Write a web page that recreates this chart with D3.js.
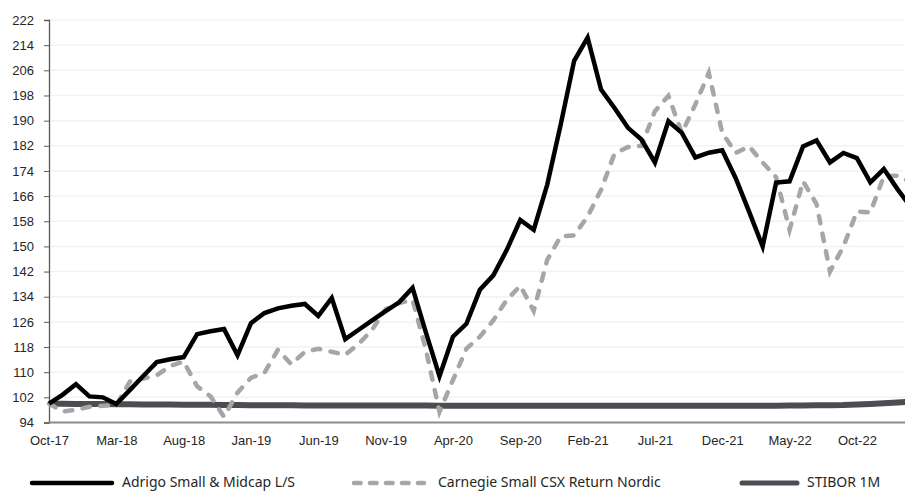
<!DOCTYPE html>
<html>
<head>
<meta charset="utf-8">
<script src="https://cdn.jsdelivr.net/npm/d3@7"></script>
<style>
  body { margin: 0; background: #fff; }
  svg { font-family: "Noto Sans", "Open Sans", sans-serif; }
</style>
</head>
<body>
<svg width="905" height="491"></svg>
<script>
'use strict';
var months = [
  'Oct-17', 'Nov-17', 'Dec-17',
  'Jan-18', 'Feb-18', 'Mar-18', 'Apr-18', 'May-18', 'Jun-18', 'Jul-18', 'Aug-18', 'Sep-18', 'Oct-18', 'Nov-18', 'Dec-18',
  'Jan-19', 'Feb-19', 'Mar-19', 'Apr-19', 'May-19', 'Jun-19', 'Jul-19', 'Aug-19', 'Sep-19', 'Oct-19', 'Nov-19', 'Dec-19',
  'Jan-20', 'Feb-20', 'Mar-20', 'Apr-20', 'May-20', 'Jun-20', 'Jul-20', 'Aug-20', 'Sep-20', 'Oct-20', 'Nov-20', 'Dec-20',
  'Jan-21', 'Feb-21', 'Mar-21', 'Apr-21', 'May-21', 'Jun-21', 'Jul-21', 'Aug-21', 'Sep-21', 'Oct-21', 'Nov-21', 'Dec-21',
  'Jan-22', 'Feb-22', 'Mar-22', 'Apr-22', 'May-22', 'Jun-22', 'Jul-22', 'Aug-22', 'Sep-22', 'Oct-22', 'Nov-22', 'Dec-22',
  'Jan-23', 'Feb-23'
];
var tickLabels = ['Oct-17', 'Mar-18', 'Aug-18', 'Jan-19', 'Jun-19', 'Nov-19', 'Apr-20',
  'Sep-20', 'Feb-21', 'Jul-21', 'Dec-21', 'May-22', 'Oct-22'];
var yTicks = [94, 102, 110, 118, 126, 134, 142, 150, 158, 166, 174, 182, 190, 198, 206, 214, 222];

var adrigo = [
  100, 102.8, 106.2,
  102.3, 102.0, 99.9, 104.3, 108.8, 113.2, 114.1, 114.8, 122.1, 123.0, 123.7, 115.4,
  125.6, 128.8, 130.3, 131.1, 131.7, 127.9, 133.6, 120.5, 123.5, 126.5, 129.4, 132.2,
  136.8, 122.5, 108.7, 121.3, 125.4, 136.2, 140.8, 148.9, 158.4, 155.3, 169.6, 188.7,
  209.0, 216.4, 199.9, 194.0, 187.7, 184.0, 176.7, 189.8, 186.1, 178.3, 179.8, 180.6,
  171.7, 161.0, 150.0, 170.3, 170.7, 181.8, 183.7, 176.7, 179.7, 178.1, 170.4, 174.6,
  168.3, 162.5
];
var carnegie = [
  100, 97.5, 98.0,
  99.0, 99.3, 99.5, 107.0, 108.0, 109.0, 112.0, 113.4, 105.5, 102.3, 95.8, 103.5,
  108.2, 109.8, 117.1, 112.5, 116.5, 117.4, 116.5, 115.5, 119.0, 123.5, 130.0, 132.0,
  133.0, 117.0, 97.4, 107.5, 117.5, 121.3, 126.5, 133.0, 137.5, 129.5, 145.7, 153.2,
  153.5, 159.5, 168.0, 179.5, 181.6, 182.0, 193.0, 197.9, 186.1, 195.1, 205.2, 186.1,
  179.7, 181.8, 176.7, 172.0, 155.3, 170.7, 163.5, 142.0, 150.0, 161.1, 160.8, 172.3,
  172.5, 170.5
];
var stibor = [
  100.0, 99.96, 99.92,
  99.88, 99.85, 99.82, 99.79, 99.76, 99.73, 99.70, 99.67, 99.64, 99.61, 99.58, 99.55,
  99.52, 99.50, 99.48, 99.46, 99.44, 99.42, 99.41, 99.40, 99.39, 99.38, 99.38, 99.37,
  99.37, 99.37, 99.36, 99.36, 99.36, 99.36, 99.35, 99.35, 99.35, 99.35, 99.35, 99.35,
  99.35, 99.35, 99.35, 99.35, 99.35, 99.35, 99.35, 99.35, 99.35, 99.35, 99.35, 99.35,
  99.35, 99.35, 99.35, 99.36, 99.38, 99.41, 99.45, 99.50, 99.57, 99.75, 99.90, 100.10,
  100.35, 100.60
];
var seriesNames = ['Adrigo Small & Midcap L/S', 'Carnegie Small CSX Return Nordic', 'STIBOR 1M'];

(() => {
  var svg = d3.select('svg');
  var left = 49;
  var top = 20;
  var bottom = 422.5;
  var right = 905;
  var step = 13.465;

  var x = d3.scalePoint()
    .domain(months)
    .range([left, left + step * (months.length - 1)]);
  var y = d3.scaleLinear()
    .domain([94, 222])
    .range([bottom, top]);

  svg.append('defs').append('clipPath')
    .attr('id', 'plot')
    .append('rect')
      .attr('x', 0)
      .attr('y', 0)
      .attr('width', right)
      .attr('height', bottom + 10);

  // grid
  svg.append('g')
    .selectAll('line').data(yTicks.slice(1))
    .enter().append('line')
      .attr('x1', left)
      .attr('x2', right)
      .attr('y1', d => y(d))
      .attr('y2', d => y(d))
      .attr('stroke', '#f2f2f2')
      .attr('stroke-width', 1.5);

  // y axis
  var yaxis = svg.append('g')
    .attr('transform', `translate(${left}, 0)`)
    .call(d3.axisLeft(y).tickValues(yTicks).tickSize(5).tickPadding(10));
  yaxis.select('.domain').attr('stroke', '#595959').attr('stroke-width', 1.3);
  yaxis.selectAll('.tick line').attr('stroke', '#595959');
  yaxis.selectAll('.tick text')
    .attr('fill', '#262626')
    .style('font-size', '13px');

  // x axis
  var xaxis = svg.append('g')
    .attr('transform', `translate(0, ${bottom})`)
    .call(d3.axisBottom(x).tickValues(tickLabels).tickSize(0).tickPadding(13));
  xaxis.select('.domain')
    .attr('d', `M${left},0H${right}`)
    .attr('stroke', '#8c8c8c')
    .attr('stroke-width', 2);
  xaxis.selectAll('.tick text')
    .attr('fill', '#262626')
    .style('font-size', '13px');

  var line = d3.line()
    .x((d, i) => x(months[i]))
    .y(d => y(d));

  var plot = svg.append('g').attr('clip-path', 'url(#plot)');
  plot.append('path')
    .datum(stibor)
    .attr('fill', 'none')
    .attr('stroke', '#4b4d52')
    .attr('stroke-width', 6)
    .attr('d', line);
  plot.append('path')
    .datum(carnegie)
    .attr('fill', 'none')
    .attr('stroke', '#a6a6a6')
    .attr('stroke-width', 4.5)
    .attr('stroke-linecap', 'round')
    .attr('stroke-dasharray', '7.5,10.5')
    .attr('d', line);
  plot.append('path')
    .datum(adrigo)
    .attr('fill', 'none')
    .attr('stroke', '#000')
    .attr('stroke-width', 4.5)
    .attr('d', line);

  // legend
  var legend = [
    {name: seriesNames[0], x0: 32, x1: 112, color: '#000', dash: null, w: 4.5},
    {name: seriesNames[1], x0: 354, x1: 424, color: '#a6a6a6', dash: '6.5,9.5', w: 4.5},
    {name: seriesNames[2], x0: 742, x1: 797, color: '#4b4d52', dash: null, w: 5}
  ];
  var ly = 482;
  var lg = svg.append('g').selectAll('g').data(legend)
    .enter().append('g');
  lg.append('line')
    .attr('x1', d => d.x0)
    .attr('x2', d => d.x1)
    .attr('y1', ly + 1)
    .attr('y2', ly + 1)
    .attr('stroke', d => d.color)
    .attr('stroke-width', d => d.w)
    .attr('stroke-linecap', 'round')
    .attr('stroke-dasharray', d => d.dash);
  lg.append('text')
    .attr('x', d => d.x1 + (d.dash ? 14 : 10))
    .attr('y', ly)
    .attr('dy', '0.35em')
    .attr('fill', '#262626')
    .style('font-size', '14px')
    .text(d => d.name);
})();
</script>
</body>
</html>
